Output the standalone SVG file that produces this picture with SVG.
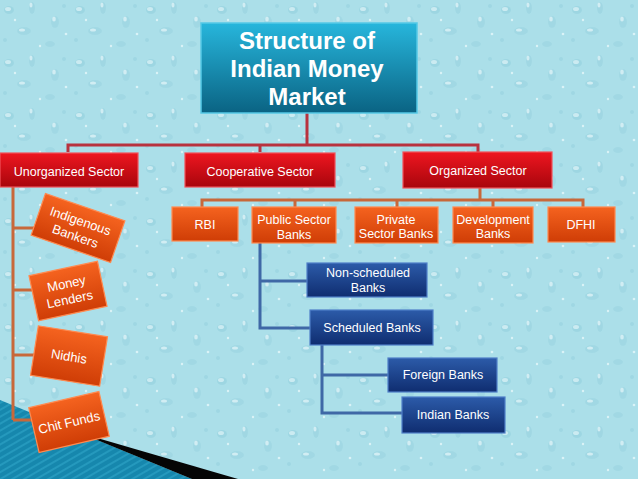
<svg xmlns="http://www.w3.org/2000/svg" width="638" height="479" viewBox="0 0 638 479">
<defs>
  <pattern id="drops" width="71" height="53" patternUnits="userSpaceOnUse">
    <rect width="71" height="53" fill="#abdfe9"/>
    <ellipse cx="9" cy="10" rx="5" ry="4" fill="#95d0de" opacity="0.6"/>
    <ellipse cx="8" cy="9" rx="3" ry="2" fill="#dff4f8" opacity="0.7"/>
    <ellipse cx="32" cy="8" rx="3" ry="6" fill="#95d0de" opacity="0.5"/>
    <ellipse cx="31" cy="5" rx="1.5" ry="2.5" fill="#e6f7fa" opacity="0.7"/>
    <ellipse cx="24" cy="31" rx="7" ry="4" fill="#98d2df" opacity="0.5"/>
    <ellipse cx="22" cy="30" rx="3" ry="1.6" fill="#e6f7fa" opacity="0.7"/>
    <ellipse cx="55" cy="22" rx="4" ry="6" fill="#98d2df" opacity="0.5"/>
    <ellipse cx="54" cy="19" rx="1.8" ry="2.5" fill="#e6f7fa" opacity="0.7"/>
    <ellipse cx="50" cy="44" rx="5" ry="3" fill="#98d2df" opacity="0.5"/>
    <circle cx="64" cy="6" r="2" fill="#98d2df" opacity="0.6"/>
    <circle cx="5" cy="40" r="2" fill="#98d2df" opacity="0.6"/>
    <circle cx="40" cy="46" r="1.2" fill="#e6f7fa" opacity="0.8"/>
    <circle cx="15" cy="20" r="1.2" fill="#e6f7fa" opacity="0.8"/>
    <circle cx="66" cy="34" r="1.3" fill="#e6f7fa" opacity="0.8"/>
  </pattern>
  <pattern id="stripes" width="6" height="6" patternUnits="userSpaceOnUse" patternTransform="rotate(-30)">
    <rect width="6" height="6" fill="#1687ad"/>
    <rect width="6" height="2" fill="#2599bd"/>
  </pattern>
  <linearGradient id="gTitle" x1="0" y1="0" x2="0" y2="1">
    <stop offset="0" stop-color="#27b6dc"/>
    <stop offset="1" stop-color="#0a6383"/>
  </linearGradient>
  <linearGradient id="gRed" x1="0" y1="0" x2="0" y2="1">
    <stop offset="0" stop-color="#ee1620"/>
    <stop offset="1" stop-color="#a8050c"/>
  </linearGradient>
  <linearGradient id="gOrange" x1="0" y1="0" x2="0" y2="1">
    <stop offset="0" stop-color="#f5631f"/>
    <stop offset="1" stop-color="#cf3d06"/>
  </linearGradient>
  <linearGradient id="gBlue" x1="0" y1="0" x2="0" y2="1">
    <stop offset="0" stop-color="#2c5ba9"/>
    <stop offset="1" stop-color="#0f2d70"/>
  </linearGradient>
</defs>
<style>
  text { font-family: "Liberation Sans", Arial, sans-serif; fill: #ffffff; text-anchor: middle; }
  .t { font-size: 24px; font-weight: bold; }
  .s { font-size: 12.5px; }
  .r { font-size: 13px; }
  .title { fill: url(#gTitle); stroke: #55c9e6; stroke-width: 1.5; }
  .red { fill: url(#gRed); stroke: #f0525a; stroke-width: 1.2; }
  .org { fill: url(#gOrange); stroke: #ff8a50; stroke-width: 1.2; }
  .blu { fill: url(#gBlue); stroke: #4f7fc8; stroke-width: 1.2; }
  .cred { stroke: #b8323e; stroke-width: 3; fill: none; }
  .corg { stroke: #c8683a; stroke-width: 3; fill: none; }
  .cblu { stroke: #3f68a6; stroke-width: 3; fill: none; }
</style>

<rect width="638" height="479" fill="url(#drops)"/>
<polygon points="0,400 192,479 0,479" fill="url(#stripes)"/>
<polygon points="80,433 238,479 192,479" fill="#050505"/>

<g id="connectors">
  <path class="cred" d="M307,113 V145 M68,152 V145 H478 V152 M260,145 V152"/>
  <path class="corg" d="M480,188 V200 M202,207 V200 H583 V207 M295,200 V207 M397,200 V207 M493,200 V207"/>
  <path class="corg" d="M13,187 V420 M13,228 H40 M13,290 H36 M13,355 H38 M13,420 H36"/>
  <path class="cblu" d="M260,243 V328 H310 M260,281 H307"/>
  <path class="cblu" d="M322,345 V413 H403 M322,375 H388"/>
</g>

<g id="title">
  <rect class="title" x="201" y="23" width="216" height="90"/>
  <text class="t" x="307" y="49">Structure of</text>
  <text class="t" x="307" y="77">Indian Money</text>
  <text class="t" x="307" y="105">Market</text>
</g>

<g id="unorganized">
  <rect class="red" x="0" y="153" width="138" height="34"/>
  <text class="s" x="69" y="176">Unorganized Sector</text>
</g>
<g id="cooperative">
  <rect class="red" x="185" y="153" width="150" height="34"/>
  <text class="s" x="260" y="176">Cooperative Sector</text>
</g>
<g id="organized">
  <rect class="red" x="403" y="152" width="149" height="36"/>
  <text class="s" x="478" y="175">Organized Sector</text>
</g>

<g id="rbi">
  <rect class="org" x="172" y="207" width="66" height="34"/>
  <text class="s" x="205" y="229">RBI</text>
</g>
<g id="public">
  <rect class="org" x="252" y="207" width="84" height="36"/>
  <text class="s" x="294" y="224">Public Sector</text>
  <text class="s" x="294" y="239">Banks</text>
</g>
<g id="private">
  <rect class="org" x="355" y="207" width="83" height="36"/>
  <text class="s" x="396" y="224">Private</text>
  <text class="s" x="396" y="238">Sector Banks</text>
</g>
<g id="development">
  <rect class="org" x="453" y="207" width="80" height="36"/>
  <text class="s" x="493" y="224">Development</text>
  <text class="s" x="493" y="238">Banks</text>
</g>
<g id="dfhi">
  <rect class="org" x="548" y="207" width="67" height="35"/>
  <text class="s" x="581" y="229">DFHI</text>
</g>

<g id="indigenous" transform="translate(78,228) rotate(19)">
  <rect class="org" x="-42" y="-22" width="84" height="44"/>
  <text class="r" x="0" y="-3">Indigenous</text>
  <text class="r" x="0" y="13">Bankers</text>
</g>
<g id="moneylenders" transform="translate(68,291) rotate(-12)">
  <rect class="org" x="-35" y="-23" width="70" height="46"/>
  <text class="r" x="0" y="-3">Money</text>
  <text class="r" x="0" y="13">Lenders</text>
</g>
<g id="nidhis" transform="translate(69,356) rotate(9)">
  <rect class="org" x="-35" y="-25" width="70" height="50"/>
  <text class="r" x="0" y="5">Nidhis</text>
</g>
<g id="chitfunds" transform="translate(69,422) rotate(-13)">
  <rect class="org" x="-36" y="-23" width="72" height="46"/>
  <text class="r" x="0" y="5">Chit Funds</text>
</g>

<g id="nonscheduled">
  <rect class="blu" x="307" y="263" width="120" height="34"/>
  <text class="s" x="368" y="277">Non-scheduled</text>
  <text class="s" x="368" y="292">Banks</text>
</g>
<g id="scheduled">
  <rect class="blu" x="310" y="310" width="123" height="35"/>
  <text class="s" x="372" y="332">Scheduled Banks</text>
</g>
<g id="foreign">
  <rect class="blu" x="388" y="358" width="109" height="34"/>
  <text class="s" x="443" y="379">Foreign Banks</text>
</g>
<g id="indian">
  <rect class="blu" x="402" y="397" width="103" height="36"/>
  <text class="s" x="453" y="419">Indian Banks</text>
</g>
</svg>
